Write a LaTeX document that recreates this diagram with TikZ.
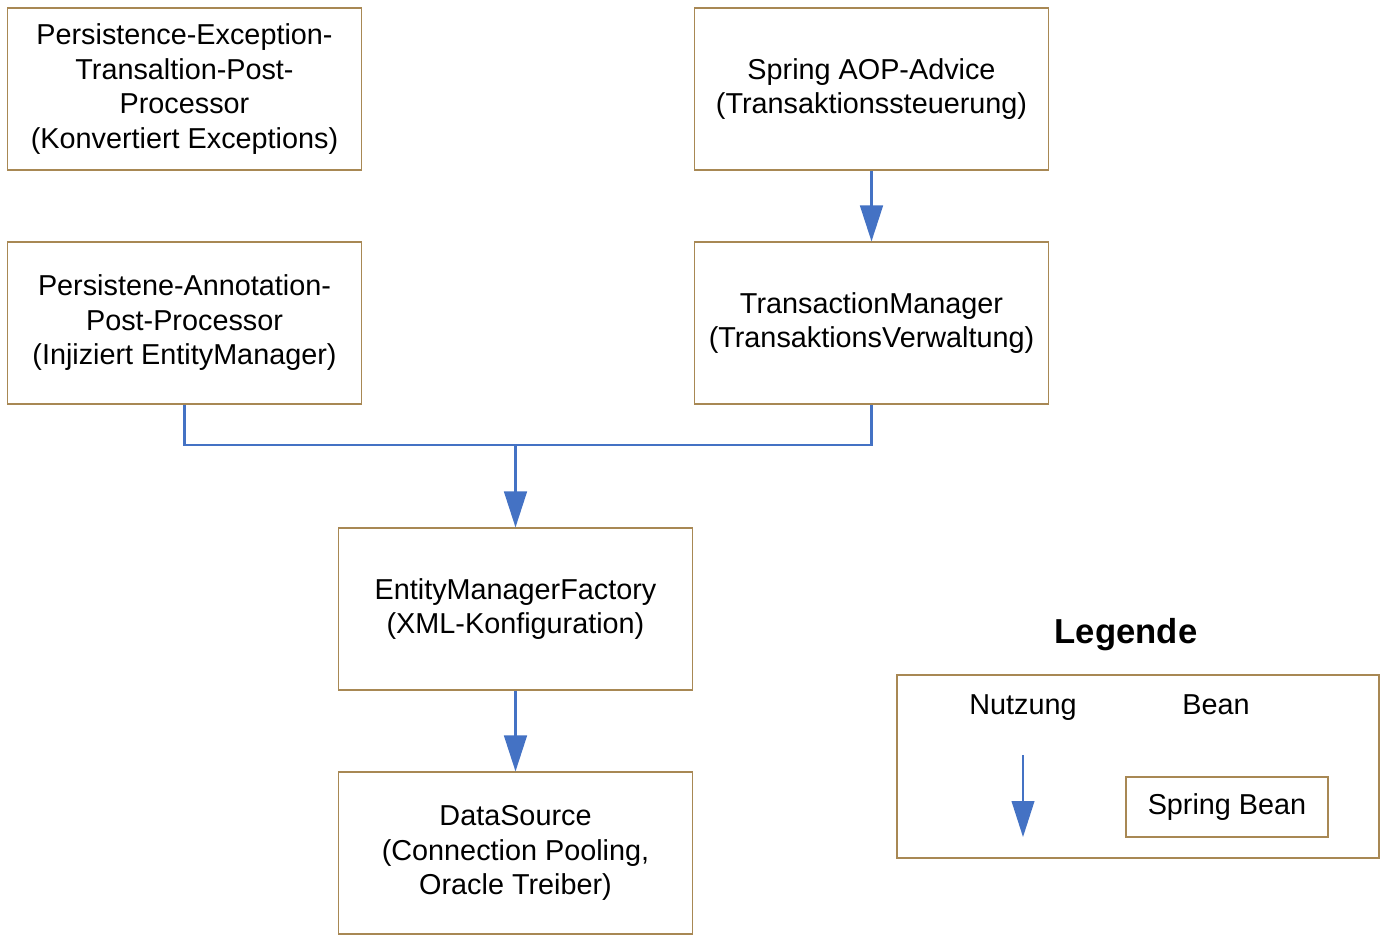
\documentclass[tikz,border=0pt]{standalone}
\usepackage{fontspec}
\setmainfont{Liberation Sans}
\usetikzlibrary{calc, arrows.meta}

\definecolor{beanframe}{RGB}{168,136,84}
\definecolor{useblue}{RGB}{68,114,196}

\begin{document}
\begin{tikzpicture}[x=0.75pt, y=-0.75pt,
    bean/.style={draw=beanframe, line width=0.8pt, minimum width=266pt, minimum height=121.5pt,
      align=center, inner sep=0pt, font=\fontsize{21.6}{25.9}\selectfont},
    use/.style={draw=useblue, line width=1.9pt, -{Triangle[length=27pt,width=17pt]}}]

    % Draw the frame
    \path[use as bounding box, fill=white] (0,0) rectangle (1388,940);

    % Draw the beans
    \node[bean] (PEx) at (184.5,89) {Persistence-Exception-\\Transaltion-Post-\\Processor\\(Konvertiert Exceptions)};
    \node[bean] (PAn) at (184.5,323) {Persistene-Annotation-\\Post-Processor\\(Injiziert EntityManager)};
    \node[bean] (AOP) at (871.5,89) {Spring AOP-Advice\\(Transaktionssteuerung)};
    \node[bean] (TxM) at (871.5,323) {TransactionManager\\(TransaktionsVerwaltung)};
    \node[bean] (EMF) at (515.5,609) {EntityManagerFactory\\(XML-Konfiguration)};
    \node[bean] (DS) at (515.5,853) {DataSource\\(Connection Pooling,\\Oracle Treiber)};

    % Draw the usages
    \coordinate (J) at (515.5,445);
    \draw[useblue, line width=1.9pt] (PAn.south) |- (J) -| (TxM.south);
    \draw[use] (J) -- (EMF.north);
    \draw[use] (AOP.south) -- (TxM.north);
    \draw[use] (EMF.south) -- (DS.north);

    % Draw the legend
    \node[font=\fontsize{26}{30}\selectfont\bfseries, anchor=base] (LegT) at (1126,643) {Legende};
    \draw[beanframe, line width=0.8pt] (897,675) rectangle (1379,858);
    \node[font=\fontsize{21.6}{25.9}\selectfont, anchor=base] (LegU) at (1023,714) {Nutzung};
    \node[font=\fontsize{21.6}{25.9}\selectfont, anchor=base] (LegB) at (1216,714) {Bean};
    \coordinate (LegA) at (1023,755);
    \coordinate (LegZ) at (1023,837);
    \draw[use, line width=1.4pt] (LegA) -- (LegZ);
    \node[bean, minimum width=151.5pt, minimum height=45pt] (LegS) at (1227,807) {Spring Bean};

\end{tikzpicture}
\end{document}
